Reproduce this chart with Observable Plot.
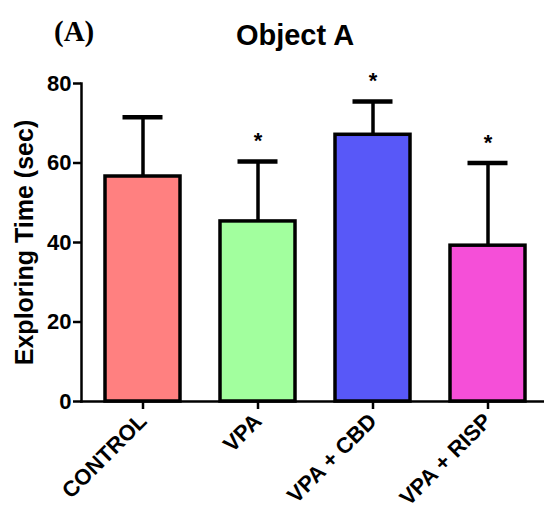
<!DOCTYPE html>
<html>
<head>
<meta charset="utf-8">
<script src="https://cdn.jsdelivr.net/npm/d3@7"></script>
<script src="https://cdn.jsdelivr.net/npm/@observablehq/plot@0.6"></script>
<style>
  body { margin: 0; background: #fff; }
  #wrap { position: relative; width: 544px; height: 514px; font-family: "Liberation Sans", Arial, sans-serif; }
  #panel { position: absolute; left: 54px; top: 17px; font-family: "Liberation Serif", "Times New Roman", serif; font-weight: bold; font-size: 29px; line-height: 1; }
  #title { position: absolute; left: 0; width: 590px; top: 21px; text-align: center; font-weight: bold; font-size: 29px; line-height: 1; }
</style>
</head>
<body>
<div id="wrap">
  <div id="chart"></div>
  <div id="panel">(A)</div>
  <div id="title">Object A</div>
</div>
<script>
const categories = ["CONTROL", "VPA", "VPA + CBD", "VPA + RISP"];
const means = [56.6, 45.3, 67.1, 39.2];
const upper = [71.5, 60.4, 75.5, 60.0];
const significant = [false, true, true, true];
const colors = ["#ff8080", "#a2ff9e", "#5858f8", "#f54fd8"];
const yTicks = [0, 20, 40, 60, 80];
const yLabel = "Exploring Time (sec)";

const data = categories.map((c, i) => ({cat: c, mean: means[i], upper: upper[i], sig: significant[i]}));

const chart = Plot.plot({
  width: 544,
  height: 514,
  marginTop: 83,
  marginBottom: 113,
  marginLeft: 81,
  marginRight: 1,
  style: {fontFamily: "'Liberation Sans', Arial, sans-serif", color: "#000", background: "#fff"},
  x: {domain: categories, range: [81, 548], paddingInner: 0.35, paddingOuter: 0.194},
  y: {domain: [0, 80]},
  color: {domain: categories, range: colors},
  marks: [
    Plot.ruleX(data, {x: "cat", y1: "mean", y2: "upper", stroke: "#000", strokeWidth: 3.5}),
    Plot.tickY(data, {x: "cat", y: "upper", stroke: "#000", strokeWidth: 4.5, insetLeft: 17.5, insetRight: 17.5}),
    Plot.barY(data, {x: "cat", y: "mean", fill: "cat", stroke: "#000", strokeWidth: 3.5}),
    Plot.text(data.filter(d => d.sig), {x: "cat", y: "upper", text: () => "*", dy: -20, fontSize: 22, fontWeight: "bold"}),
    Plot.frame({anchor: "left", strokeWidth: 2.5}),
    Plot.frame({anchor: "bottom", strokeWidth: 2.5}),
    Plot.axisY({ticks: yTicks, tickSize: 8, tickPadding: 2, fontSize: 22, fontWeight: "bold", strokeWidth: 2.5, label: null}),
    Plot.axisX({tickSize: 8, tickPadding: 8, tickRotate: -45, fontSize: 22, fontWeight: "bold", strokeWidth: 2.5, label: null}),
    Plot.text([yLabel], {frameAnchor: "left", textAnchor: "middle", rotate: -90, dx: -57, fontSize: 25, fontWeight: "bold"})
  ]
});
document.getElementById("chart").appendChild(chart);
</script>
</body>
</html>
